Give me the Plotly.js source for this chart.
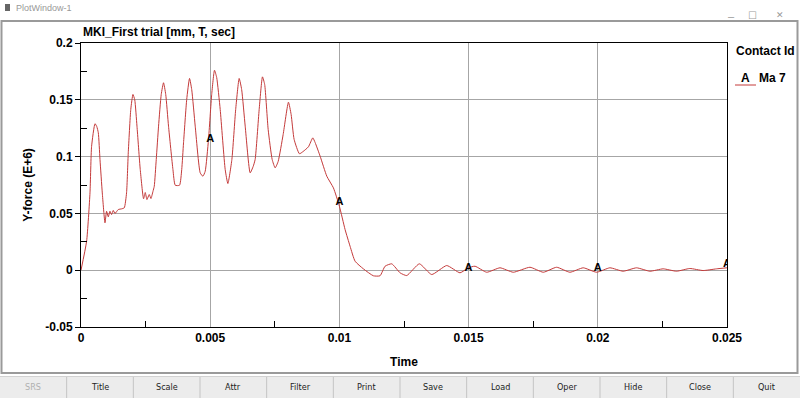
<!DOCTYPE html>
<html>
<head>
<meta charset="utf-8">
<script src="https://cdn.plot.ly/plotly-3.0.1.min.js"></script>
<style>
html,body{margin:0;padding:0;background:#ffffff;}
#chart{width:800px;height:398px;}
</style>
</head>
<body>
<div id="chart"></div>
<script>
// ---- data ----
const timeValues = [
0.0000,0.000217,0.000348,0.00041,0.000541,0.00061,0.00067,0.000735,0.000824,0.000928,
0.00099,0.001056,0.00112,0.001183,0.001249,0.001315,0.001442,0.00157,0.001674,0.001763,
0.001829,0.001926,0.002011,0.00208,0.002166,0.002293,0.002421,0.002487,0.002552,0.002641,
0.002707,0.002784,0.002835,0.002912,0.003001,0.003105,0.003194,0.003279,0.003387,0.003558,
0.003647,0.003813,0.003898,0.003968,0.004091,0.0042,0.004285,0.00442,0.004613,0.004718,
0.004807,0.004934,0.005058,0.005166,0.005251,0.005387,0.00558,0.005684,0.005839,0.005986,
0.006121,0.006218,0.006354,0.006547,0.006663,0.00674,0.006895,0.007023,0.007108,0.007243,
0.007398,0.007514,0.00763,0.007823,0.008028,0.008132,0.008248,0.008453,0.008596,0.008801,
0.008971,0.00906,0.009254,0.009513,0.009768,0.0100,0.01022,0.010413,0.010607,0.010928,
0.011314,0.011573,0.011767,0.012026,0.012347,0.012606,0.013094,0.013573,0.014153,0.014668,
0.014989,0.015248,0.0157,0.016215,0.016729,0.017375,0.017889,0.018407,0.018921,0.019435,
0.019954,0.020468,0.020982,0.0215,0.022015,0.022529,0.023047,0.023561,0.024076,0.024594,
0.025
];
const yForce = [
0.000,0.0255,0.0681,0.109,0.129,0.1265,0.121,0.0975,0.068,0.0417,
0.0519,0.047,0.0519,0.049,0.0526,0.0499,0.0534,0.054,0.0549,0.0681,
0.1033,0.1415,0.1547,0.150,0.1268,0.0886,0.0629,0.0684,0.0622,0.0666,
0.0631,0.0693,0.0739,0.0975,0.1268,0.1547,0.165,0.1547,0.1268,0.0886,
0.0748,0.0748,0.0886,0.1121,0.1503,0.1688,0.159,0.1268,0.0857,0.0827,
0.0871,0.115,0.1547,0.176,0.1696,0.1415,0.0886,0.0763,0.0975,0.1415,
0.1688,0.159,0.1268,0.0857,0.0913,0.0975,0.1415,0.1702,0.1635,0.1239,
0.0975,0.0901,0.0957,0.1194,0.1479,0.1371,0.1151,0.1025,0.1045,0.1086,
0.1165,0.1124,0.1004,0.0827,0.0725,0.0563,0.0358,0.0211,0.0079,0.0012,
-0.0049,-0.0049,0.0035,0.0056,-0.0023,-0.0047,0.0056,-0.0038,0.0041,-0.0023,
0.0021,0.0035,-0.0018,0.0021,-0.0018,0.0026,-0.0018,0.0026,-0.0018,0.0021,
-0.0018,0.0021,-0.0009,0.0021,-0.0009,0.0012,-0.0009,0.0015,-0.0003,0.0012,
0.0021
];
const markerTimes = [0.005, 0.010, 0.015, 0.020, 0.025];
const markerValues = [0.115, 0.060, 0.002, 0.002, 0.005];
const xTickVals = [0, 0.005, 0.01, 0.015, 0.02, 0.025];
const xTickText = ['0', '0.005', '0.01', '0.015', '0.02', '0.025'];
const xMinorVals = [0.0025, 0.0075, 0.0125, 0.0175, 0.0225];
const yTickVals = [-0.05, 0, 0.05, 0.1, 0.15, 0.2];
const yTickText = ['-0.05', '0', '0.05', '0.1', '0.15', '0.2'];
const yMinorVals = [-0.025, 0.025, 0.075, 0.125, 0.175];
const buttonLabels = ['SRS','Title','Scale','Attr','Filter','Print','Save','Load','Oper','Hide','Close','Quit'];

// ---- layout helpers (pixel -> paper) ----
const W = 800, H = 398;
const M = {l: 81, r: 73, t: 43, b: 71};
const PW = W - M.l - M.r, PH = H - M.t - M.b;
const px = x => (x - M.l) / PW;
const py = y => (H - M.b - y) / PH;

const FONT = 'Liberation Sans, Arial, sans-serif';
const lineColor = '#c43a3a';

const traces = [
  {
    x: timeValues, y: yForce, type: 'scatter', mode: 'lines',
    line: {color: lineColor, width: 1, shape: 'spline', smoothing: 0.5}, hoverinfo: 'x+y', showlegend: false
  },
  {
    x: markerTimes, y: markerValues, type: 'scatter', mode: 'text',
    text: markerTimes.map(() => 'A'), textposition: 'middle center',
    textfont: {family: FONT, size: 11, color: '#000', weight: 'bold'},
    showlegend: false, hoverinfo: 'skip'
  }
];

const shapes = [];
const annotations = [];

// window chrome: title bar
shapes.push({type:'rect', xref:'paper', yref:'paper', x0:px(0), x1:px(800), y0:py(0), y1:py(20),
  fillcolor:'#ffffff', line:{width:0}, layer:'below'});
shapes.push({type:'rect', xref:'paper', yref:'paper', x0:px(5), x1:px(10), y0:py(4), y1:py(11),
  fillcolor:'#666', line:{width:0}});
annotations.push({xref:'paper', yref:'paper', x:px(14), y:py(8), xanchor:'left', yanchor:'middle',
  text:'PlotWindow-1', showarrow:false, font:{family:FONT, size:9, color:'#999'}});
annotations.push({xref:'paper', yref:'paper', x:px(737), y:py(8), text:'\u2013', showarrow:false,
  font:{family:FONT, size:11, color:'#999'}});
annotations.push({xref:'paper', yref:'paper', x:px(759), y:py(8), text:'\u2610', showarrow:false,
  font:{family:'DejaVu Sans', size:10, color:'#999'}});
annotations.push({xref:'paper', yref:'paper', x:px(786), y:py(8), text:'\u2715', showarrow:false,
  font:{family:'DejaVu Sans', size:9, color:'#999'}});

// window frame
shapes.push({type:'rect', xref:'paper', yref:'paper', x0:px(1.5), x1:px(797.5), y0:py(21), y1:py(373),
  fillcolor:'rgba(0,0,0,0)', line:{color:'#9a9a9a', width:2}});

// button bar
shapes.push({type:'rect', xref:'paper', yref:'paper', x0:px(0), x1:px(800), y0:py(376), y1:py(398),
  fillcolor:'#ececec', line:{width:0}});
shapes.push({type:'line', xref:'paper', yref:'paper', x0:px(0), x1:px(800), y0:py(376.5), y1:py(376.5),
  line:{color:'#d2d2d2', width:1}});
const bw = W / buttonLabels.length;
buttonLabels.forEach((lab, i) => {
  if (i > 0) {
    shapes.push({type:'line', xref:'paper', yref:'paper', x0:px(i*bw), x1:px(i*bw), y0:py(377), y1:py(398),
      line:{color:'#c4c4c4', width:1}});
  }
  annotations.push({xref:'paper', yref:'paper', x:px(i*bw + bw/2), y:py(387), xanchor:'center', yanchor:'middle',
    text:lab, showarrow:false,
    font:{family:'DejaVu Sans Condensed, Liberation Sans Narrow, sans-serif', size:9, color: i === 0 ? '#b0b0b0' : '#222'}});
});

// chart title
annotations.push({xref:'paper', yref:'paper', x:px(81), y:py(32), xanchor:'left', yanchor:'middle',
  text:'<b>MKI_First trial [mm, T, sec]</b>', showarrow:false, font:{family:FONT, size:12, color:'#000'}});

// legend block
annotations.push({xref:'paper', yref:'paper', x:px(734), y:py(51), xanchor:'left', yanchor:'middle',
  text:'<b>Contact Id</b>', showarrow:false, font:{family:FONT, size:12, color:'#000'}});
shapes.push({type:'line', xref:'paper', yref:'paper', x0:px(735), x1:px(756), y0:py(85), y1:py(85),
  line:{color:lineColor, width:1}});
annotations.push({xref:'paper', yref:'paper', x:px(745), y:py(78), xanchor:'center', yanchor:'middle',
  text:'<b>A</b>', showarrow:false, font:{family:FONT, size:12, color:'#000'}});
annotations.push({xref:'paper', yref:'paper', x:px(757), y:py(78), xanchor:'left', yanchor:'middle',
  text:'<b>Ma 7</b>', showarrow:false, font:{family:FONT, size:12, color:'#000'}});

const layout = {
  width: W, height: H,
  margin: {l: M.l, r: M.r, t: M.t, b: M.b, pad: 0},
  paper_bgcolor: '#ffffff', plot_bgcolor: '#ffffff',
  showlegend: false,
  font: {family: FONT, size: 12, color: '#000'},
  xaxis: {
    range: [0, 0.025], fixedrange: true,
    tickmode: 'array', tickvals: xTickVals, ticktext: xTickText,
    tickfont: {family: FONT, size: 12, color: '#000', weight: 'bold'},
    ticks: '', showgrid: true, gridcolor: '#a6a6a6', gridwidth: 1,
    showline: true, linecolor: '#000', linewidth: 1, mirror: true, zeroline: false,
    minor: {tickmode: 'array', tickvals: xMinorVals, ticks: 'inside', ticklen: 6, tickcolor: '#000', showgrid: false},
    title: {text: '<b>Time</b>', font: {family: FONT, size: 12, color: '#000'}, standoff: 13}
  },
  yaxis: {
    range: [-0.05, 0.2], fixedrange: true,
    tickmode: 'array', tickvals: yTickVals, ticktext: yTickText,
    tickfont: {family: FONT, size: 12, color: '#000', weight: 'bold'},
    ticks: 'outside', ticklen: 5, tickcolor: '#000',
    showgrid: true, gridcolor: '#a6a6a6', gridwidth: 1,
    showline: true, linecolor: '#000', linewidth: 1, mirror: true, zeroline: false,
    minor: {tickmode: 'array', tickvals: yMinorVals, ticks: 'inside', ticklen: 6, tickcolor: '#000', showgrid: false},
    title: {text: '<b>Y-force (E+6)</b>', font: {family: FONT, size: 12, color: '#000'}, standoff: 10}
  },
  shapes: shapes,
  annotations: annotations
};

Plotly.newPlot('chart', traces, layout, {displayModeBar: false, staticPlot: true});
</script>
</body>
</html>
